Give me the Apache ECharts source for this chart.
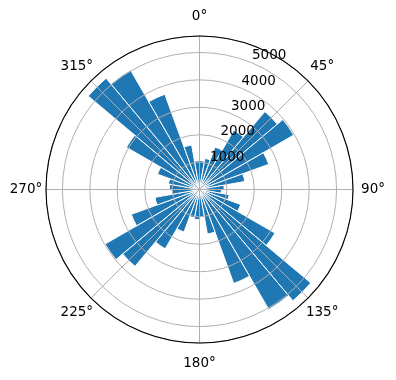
<!DOCTYPE html>
<html>
<head>
<meta charset="utf-8">
<script src="https://cdn.jsdelivr.net/npm/echarts@6/dist/echarts.min.js"></script>
<style>
  html, body { margin: 0; padding: 0; background: #fff; }
  #chart { width: 396px; height: 380px; }
</style>
</head>
<body>
<div id="chart"></div>
<script>
// bin centres (degrees, clockwise from north) and bar lengths
const directions = [5, 15, 25, 35, 45, 55, 65, 75, 85, 95, 105, 115,
  125, 135, 145, 155, 165, 175, 185, 195, 205, 215, 225, 235,
  245, 255, 265, 275, 285, 295, 305, 315, 325, 335, 345, 355]
const counts = [1050, 1150, 1650, 2500, 3710, 3970, 2690, 1680, 900, 800, 1100, 1600,
  3180, 5300, 5050, 3650, 1650, 1000, 1100, 1050, 1650, 2500, 3660, 3980,
  2650, 1650, 1000, 1100, 1150, 1630, 3080, 5300, 5030, 3700, 1650, 1050]
const angleTicks = [0, 45, 90, 135, 180, 225, 270, 315]
const radiusTicks = [1000, 2000, 3000, 4000, 5000]
const rMax = 5600

const FONT = 'DejaVu Sans'
const center = [199.5, 189.5]
const radius = 153.5

const chart = echarts.init(document.getElementById('chart'))

// echarts aligns angle labels away from the circle; a fixed-size box
// keeps each label centred ~20px outside the rim like matplotlib does
function angleLabel(v) {
  if (angleTicks.indexOf(v) < 0) return ''
  let cls = v % 90 === 0 ? 'c' : 'd'
  return '{' + cls + '|' + v + '°}'
}

function buildOption() {
  return {
    animation: false,
    polar: [
      { center: center, radius: radius },
      { center: center, radius: radius },
      { center: center, radius: radius }
    ],
    angleAxis: [
      // bars
      {
        polarIndex: 0,
        type: 'category',
        data: directions,
        startAngle: 90,
        clockwise: true,
        axisLine: { show: false },
        axisTick: { show: false },
        axisLabel: { show: false },
        splitLine: { show: false }
      },
      // degree labels, spokes, outer circle
      {
        polarIndex: 1,
        type: 'value',
        min: 0,
        max: 360,
        interval: 45,
        startAngle: 90,
        clockwise: true,
        z: 5,
        axisLine: { lineStyle: { color: '#000', width: 1.1 } },
        axisTick: { show: false },
        axisLabel: {
          margin: 0,
          color: '#000',
          fontFamily: FONT,
          fontSize: 13.5,
          formatter: angleLabel,
          rich: {
            c: { width: 40, height: 40, lineHeight: 40, align: 'center', verticalAlign: 'middle', fontFamily: FONT, fontSize: 13.5, color: '#000' },
            d: { width: 28.3, height: 28.3, lineHeight: 28.3, align: 'center', verticalAlign: 'middle', fontFamily: FONT, fontSize: 13.5, color: '#000' }
          }
        },
        splitLine: { lineStyle: { color: '#b0b0b0', width: 1 } }
      },
      // only orients the radial labels at 22.5°
      {
        polarIndex: 2,
        type: 'value',
        min: 0,
        max: 360,
        startAngle: 67.5,
        show: false
      }
    ],
    radiusAxis: [
      { polarIndex: 0, min: 0, max: rMax, show: false },
      {
        polarIndex: 1,
        min: 0,
        max: rMax,
        interval: 1000,
        z: 5,
        axisLine: { show: false },
        axisTick: { show: false },
        axisLabel: { show: false },
        splitLine: {
          lineStyle: { color: '#b0b0b0', width: 1 }
        }
      },
      {
        polarIndex: 2,
        min: 0,
        max: rMax,
        interval: 1000,
        z: 6,
        axisLine: { show: false },
        axisTick: { show: false },
        splitLine: { show: false },
        axisLabel: {
          margin: 0,
          align: 'left',
          verticalAlign: 'bottom',
          color: '#000',
          fontFamily: FONT,
          fontSize: 13.5,
          formatter: (v) => (radiusTicks.indexOf(v) >= 0 ? String(v) : '')
        }
      }
    ],
    series: [
      {
        type: 'bar',
        coordinateSystem: 'polar',
        polarIndex: 0,
        data: counts,
        barCategoryGap: '0%',
        itemStyle: { color: '#1f77b4', borderColor: '#fff', borderWidth: 1 }
      }
    ]
  }
}

chart.setOption(buildOption())
</script>
</body>
</html>
